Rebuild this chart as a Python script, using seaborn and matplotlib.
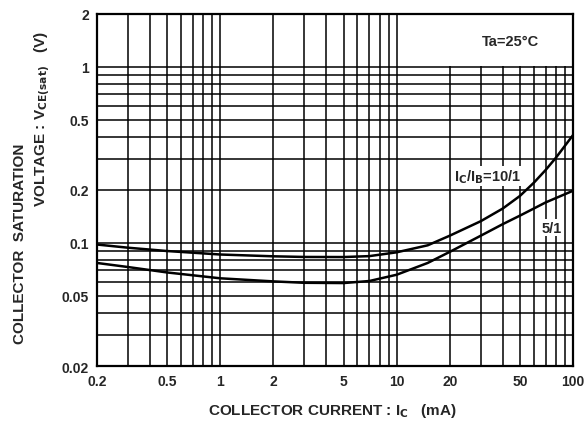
import matplotlib
matplotlib.use("Agg")
import matplotlib.pyplot as plt
import matplotlib.patches as mpatches
import seaborn as sns
import pandas as pd

# collector current (mA)
ic = [0.2, 0.3, 0.5, 1, 2, 3, 5, 7, 10, 15, 20, 30, 40, 50, 60, 70, 80, 100]
# VCE(sat) for Ic/Ib = 10/1 and 5/1 (V)
vce_10 = [0.098, 0.094, 0.090, 0.086, 0.084, 0.0833, 0.0832, 0.0842, 0.0885, 0.097,
          0.110, 0.133, 0.157, 0.185, 0.220, 0.260, 0.305, 0.410]
vce_5 = [0.077, 0.073, 0.068, 0.063, 0.0605, 0.0594, 0.0592, 0.0608, 0.066, 0.077,
         0.089, 0.110, 0.128, 0.143, 0.157, 0.170, 0.180, 0.198]

xticks = [0.2, 0.5, 1, 2, 5, 10, 20, 50, 100]
xtick_labels = ["0.2", "0.5", "1", "2", "5", "10", "20", "50", "100"]
xgrid = [0.3, 0.4, 0.6, 0.7, 0.8, 0.9, 3, 4, 6, 7, 8, 9, 30, 40, 60, 70, 80, 90]
yticks = [0.02, 0.05, 0.1, 0.2, 0.5, 1, 2]
ytick_labels = ["0.02", "0.05", "0.1", "0.2", "0.5", "1", "2"]
ygrid = [0.03, 0.04, 0.06, 0.07, 0.08, 0.09, 0.3, 0.4, 0.6, 0.7, 0.8, 0.9]

df10 = pd.DataFrame({"ic": ic, "vce": vce_10})
df5 = pd.DataFrame({"ic": ic, "vce": vce_5})

sns.set_style("white")
plt.rcParams["font.family"] = ["Liberation Sans", "DejaVu Sans"]
plt.rcParams["font.weight"] = "bold"

fig = plt.figure(figsize=(5.86, 4.27), dpi=100)
ax = fig.add_axes([0.1655, 0.1405, 0.8123, 0.8244])
ax.set_xscale("log")
ax.set_yscale("log")
ax.set_xlim(0.2, 100)
ax.set_ylim(0.02, 2)

ax.set_xticks(xticks)
ax.set_xticklabels(xtick_labels)
ax.set_xticks(xgrid, minor=True)
ax.set_yticks(yticks)
ax.set_yticklabels(ytick_labels)
ax.set_yticks(ygrid, minor=True)
ax.tick_params(which="both", length=0, labelsize=10, pad=6)
ax.grid(which="both", color="black", lw=1.1)
ax.set_axisbelow(True)

# blank corner for the Ta label (keep the 10 mA line)
ax.add_patch(mpatches.Rectangle((10.3, 1.01), 89.7, 0.99, facecolor="white", edgecolor="none", zorder=1))
ax.text(44, 1.41, "Ta=25°C", ha="center", va="center", fontsize=10.5, zorder=3)

sns.lineplot(data=df10, x="ic", y="vce", color="black", lw=1.8, ax=ax, zorder=2)
sns.lineplot(data=df5, x="ic", y="vce", color="black", lw=1.8, ax=ax, zorder=2)

ax.text(33, 0.24, "I$_\\mathrm{C}$/I$_\\mathrm{B}$=10/1", ha="center", va="center", fontsize=10.5,
        bbox=dict(facecolor="white", edgecolor="none", pad=1), zorder=3)
ax.text(76, 0.122, "5/1", ha="center", va="center", fontsize=10.5,
        bbox=dict(facecolor="white", edgecolor="none", pad=1), zorder=3)

for s in ax.spines.values():
    s.set_color("black")
    s.set_linewidth(1.6)

ax.set_xlabel("")
ax.set_ylabel("")
fig.text(0.567, 0.0375, "COLLECTOR CURRENT : I$_\\mathrm{C}$   (mA)", ha="center", va="center", fontsize=11)
fig.text(0.034, 0.4286, "COLLECTOR  SATURATION", rotation=90, ha="center", va="center", fontsize=11)
fig.text(0.073, 0.721, "VOLTAGE : V$_\\mathrm{CE(sat)}$   (V)", rotation=90, ha="center", va="center", fontsize=11)

fig.savefig("out.png", dpi=100)
